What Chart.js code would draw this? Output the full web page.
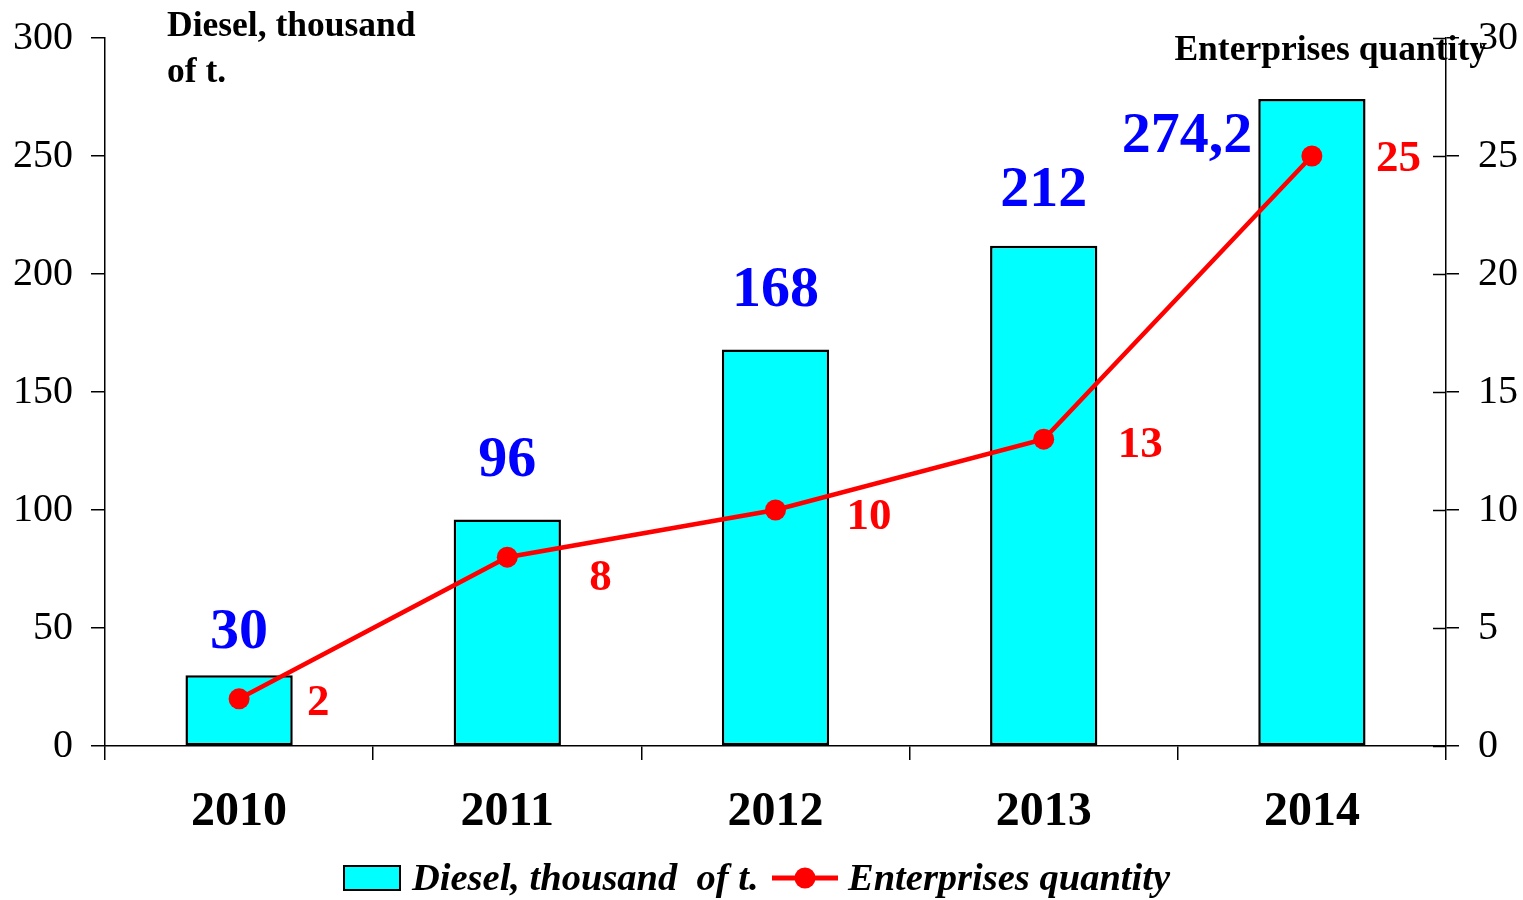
<!DOCTYPE html>
<html>
<head>
<meta charset="utf-8">
<script src="https://cdn.jsdelivr.net/npm/chart.js@4.4.1/dist/chart.umd.min.js"></script>
<style>
  html, body { margin: 0; padding: 0; background: #fff; }
  #wrap { width: 1523px; height: 900px; }
</style>
</head>
<body>
<div id="wrap"><canvas id="chart" width="1523" height="900"></canvas></div>
<script>
// Data
const years = ['2010', '2011', '2012', '2013', '2014'];
const dieselValues = [30, 96, 168, 212, 274.2];
const dieselLabels = ['30', '96', '168', '212', '274,2'];
const enterpriseValues = [2, 8, 10, 13, 25];
const leftTicks = [0, 50, 100, 150, 200, 250, 300];
const rightTicks = [0, 5, 10, 15, 20, 25, 30];

const SERIF = "'Liberation Serif', 'Times New Roman', serif";

// label placement tweaks (dx, dy) per point
const blueOffsets = [[0, -27], [0, -43], [0, -44], [0, -40], [-125, 53]];
const redOffsets = [[68, 5], [82, 21], [71, 7], [74, 6], [64, 3]];

// Value labels, axis titles, inner half of right ticks, legend
const decorPlugin = {
  id: 'decor',
  afterDatasetsDraw(chart) {
    const ctx = chart.ctx;
    const area = chart.chartArea;
    const y1 = chart.scales.y1;

    ctx.save();
    // inner part of right axis ticks (they cross the axis)
    ctx.strokeStyle = '#000';
    ctx.lineWidth = 1.5;
    rightTicks.forEach(v => {
      const py = Math.round(y1.getPixelForValue(v)) + 0.5;
      ctx.beginPath();
      ctx.moveTo(area.right - 13, py);
      ctx.lineTo(area.right, py);
      ctx.stroke();
    });

    // bar labels
    const barMeta = chart.getDatasetMeta(0);
    ctx.font = 'bold 58px ' + SERIF;
    ctx.fillStyle = '#0000FF';
    ctx.textAlign = 'center';
    ctx.textBaseline = 'alphabetic';
    barMeta.data.forEach((bar, i) => {
      const off = blueOffsets[i];
      ctx.fillText(dieselLabels[i], bar.x + off[0], bar.y + off[1]);
    });

    // line labels
    const lineMeta = chart.getDatasetMeta(1);
    ctx.font = 'bold 45px ' + SERIF;
    ctx.fillStyle = '#FF0000';
    ctx.textAlign = 'left';
    ctx.textBaseline = 'middle';
    lineMeta.data.forEach((pt, i) => {
      const off = redOffsets[i];
      ctx.fillText(String(enterpriseValues[i]), pt.x + off[0], pt.y + off[1]);
    });

    // axis titles
    ctx.fillStyle = '#000';
    ctx.font = 'bold 35.5px ' + SERIF;
    ctx.textBaseline = 'alphabetic';
    ctx.textAlign = 'left';
    ctx.fillText('Diesel, thousand', 167, 36);
    ctx.fillText('of t.', 167, 82);
    ctx.textAlign = 'right';
    ctx.fillText('Enterprises quantity', 1487, 60);

    // legend
    const ly = 878;
    ctx.fillStyle = '#00FFFF';
    ctx.fillRect(344, 866, 56, 24);
    ctx.strokeStyle = '#000';
    ctx.lineWidth = 2;
    ctx.strokeRect(344, 866, 56, 24);
    ctx.font = 'italic bold 38.5px ' + SERIF;
    ctx.fillStyle = '#000';
    ctx.textAlign = 'left';
    ctx.textBaseline = 'middle';
    ctx.fillText('Diesel, thousand  of t.', 412, ly + 2);
    ctx.strokeStyle = '#FF0000';
    ctx.lineWidth = 5;
    ctx.beginPath();
    ctx.moveTo(772, ly);
    ctx.lineTo(838, ly);
    ctx.stroke();
    ctx.fillStyle = '#FF0000';
    ctx.beginPath();
    ctx.arc(805, ly, 10.5, 0, Math.PI * 2);
    ctx.fill();
    ctx.fillStyle = '#000';
    ctx.fillText('Enterprises quantity', 848, ly + 2);
    ctx.restore();
  }
};

// y scales: fixed width, no extra label padding above/below the plot
function fitY(width) {
  return function (scale) {
    scale.width = width;
    scale.paddingTop = 0;
    scale.paddingBottom = 0;
  };
}

const ctx = document.getElementById('chart');
new Chart(ctx, {
  type: 'bar',
  data: {
    labels: years,
    datasets: [{
      type: 'bar',
      label: 'Diesel, thousand  of t.',
      data: dieselValues,
      yAxisID: 'y',
      backgroundColor: '#00FFFF',
      borderColor: '#000000',
      borderWidth: 2.5,
      borderSkipped: false,
      categoryPercentage: 1,
      barPercentage: 0.4,
      order: 2
    }, {
      type: 'line',
      label: 'Enterprises quantity',
      data: enterpriseValues,
      yAxisID: 'y1',
      borderColor: '#FF0000',
      backgroundColor: '#FF0000',
      borderWidth: 4.5,
      pointRadius: 10.5,
      pointBorderWidth: 0,
      pointBackgroundColor: '#FF0000',
      tension: 0,
      order: 1
    }]
  },
  options: {
    responsive: false,
    animation: false,
    events: [],
    layout: { padding: { top: 38, left: 0, right: 0, bottom: 0 } },
    plugins: {
      legend: { display: false },
      tooltip: { enabled: false }
    },
    scales: {
      x: {
        offset: true,
        grid: {
          display: true,
          offset: true,
          drawOnChartArea: false,
          drawTicks: true,
          tickLength: 14,
          color: '#000',
          lineWidth: 1.5
        },
        border: { display: true, color: '#000', width: 1.5 },
        ticks: {
          color: '#000',
          padding: 24,
          font: { family: SERIF, size: 48, weight: 'bold' }
        },
        afterFit(scale) { scale.height = 154; }
      },
      y: {
        position: 'left',
        min: 0,
        max: 300,
        afterBuildTicks(scale) { scale.ticks = leftTicks.map(v => ({ value: v })); },
        grid: {
          drawOnChartArea: false,
          tickLength: 14,
          color: '#000',
          lineWidth: 1.5
        },
        border: { display: true, color: '#000', width: 1.5 },
        ticks: {
          color: '#000',
          padding: 18,
          font: { family: SERIF, size: 40 }
        },
        afterFit: fitY(105)
      },
      y1: {
        position: 'right',
        min: 0,
        max: 30,
        afterBuildTicks(scale) { scale.ticks = rightTicks.map(v => ({ value: v })); },
        grid: {
          drawOnChartArea: false,
          tickLength: 13,
          color: '#000',
          lineWidth: 1.5
        },
        border: { display: true, color: '#000', width: 1.5 },
        ticks: {
          color: '#000',
          padding: 19,
          font: { family: SERIF, size: 40 }
        },
        afterFit: fitY(77)
      }
    }
  },
  plugins: [decorPlugin]
});
</script>
</body>
</html>
